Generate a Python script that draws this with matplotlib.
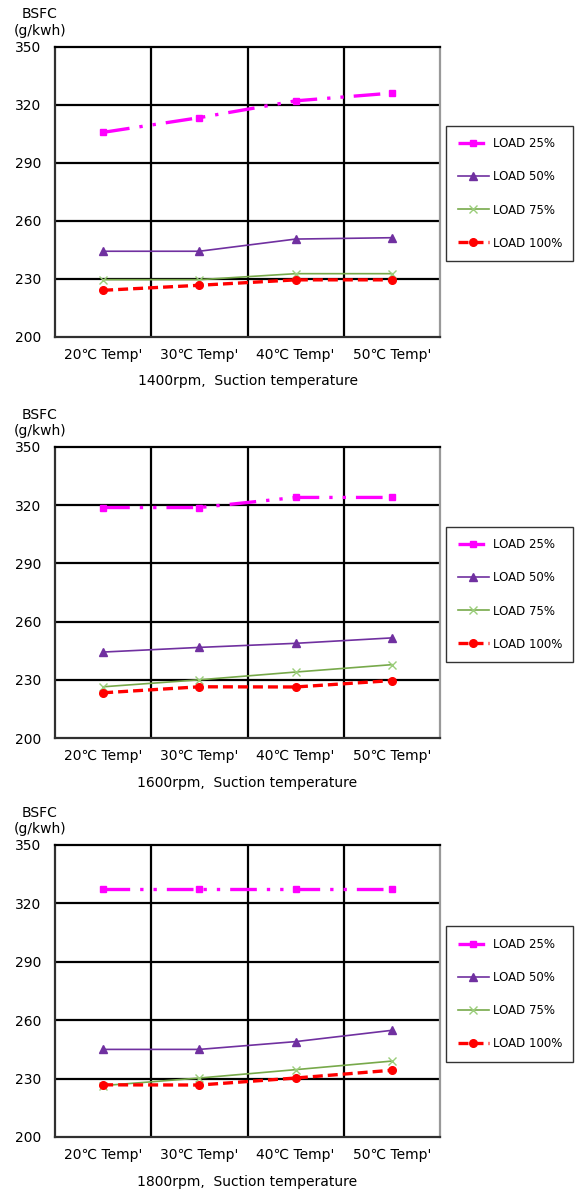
"""BSFC vs suction temperature at three engine speeds."""
import matplotlib.pyplot as plt

plt.rcParams['font.family'] = ['DejaVu Sans', 'Noto Sans CJK KR']

categories = ["20℃ Temp'", "30℃ Temp'", "40℃ Temp'", "50℃ Temp'"]
series_names = ["LOAD 25%", "LOAD 50%", "LOAD 75%", "LOAD 100%"]
speeds = ["1400rpm", "1600rpm", "1800rpm"]

# BSFC values (g/kwh), one list per load, per speed
bsfc_1400 = [
    [305.7, 313.3, 322.0, 326.0],
    [244.2, 244.2, 250.5, 251.2],
    [229.5, 229.5, 232.6, 232.6],
    [224.0, 226.6, 229.4, 229.4],
]
bsfc_1600 = [
    [318.8, 318.8, 324.0, 324.0],
    [244.3, 246.7, 248.8, 251.6],
    [226.4, 230.0, 234.0, 237.8],
    [223.3, 226.4, 226.3, 229.6],
]
bsfc_1800 = [
    [327.5, 327.5, 327.5, 327.5],
    [245.0, 245.0, 249.0, 254.8],
    [226.4, 230.3, 234.6, 239.0],
    [226.8, 226.7, 230.3, 234.3],
]
all_data = [bsfc_1400, bsfc_1600, bsfc_1800]

styles = [
    dict(color="#FF00FF", lw=2.4, dashes=(8, 3, 1, 3, 1, 3), marker="s", ms=5),
    dict(color="#7030A0", lw=1.2, ls="-", marker="^", ms=5.5),
    dict(color="#77A94A", lw=1.2, ls="-", marker="x", ms=6, mew=1.0, mec="#9ACD7A"),
    dict(color="#FF0000", lw=2.4, dashes=(3, 1.5), marker="o", ms=5.5),
]

W, H = 576, 1189
fig = plt.figure(figsize=(W / 100, H / 100), dpi=100)

# pixel layout: (axes top, axes bottom, legend top, legend bottom)
panels = [(46.7, 336.7, 125, 262), (447, 738, 527, 662), (845, 1137, 925, 1063)]
ax_left, ax_right = 55, 440

x = list(range(len(categories)))
for (top, bot, ltop, lbot), data, rpm in zip(panels, all_data, speeds):
    ax = fig.add_axes([ax_left / W, 1 - bot / H, (ax_right - ax_left) / W, (bot - top) / H])
    lines = []
    for vals, name, st in zip(data, series_names, styles):
        ln, = ax.plot(x, vals, label=name, **st)
        lines.append(ln)
    ax.set_xlim(-0.5, 3.5)
    ax.set_ylim(200, 350)
    ax.set_yticks([200, 230, 260, 290, 320, 350])
    ax.set_xticks(x)
    ax.set_xticklabels(categories, fontsize=10)
    ax.tick_params(axis="y", labelsize=10, length=0, pad=10)
    ax.tick_params(axis="x", length=0, pad=8)
    for yv in [230, 260, 290, 320]:
        ax.axhline(yv, color="black", lw=1.6, zorder=0)
    for xv in [0.5, 1.5, 2.5]:
        ax.axvline(xv, color="black", lw=1.6, zorder=0)
    ax.spines["top"].set_color("black")
    ax.spines["top"].set_linewidth(1.6)
    ax.spines["left"].set_color("#303030")
    ax.spines["left"].set_linewidth(1.6)
    ax.spines["bottom"].set_color("#303030")
    ax.spines["bottom"].set_linewidth(1.6)
    ax.spines["right"].set_color("#999999")
    ax.spines["right"].set_linewidth(1.6)
    ax.set_xlabel(f"{rpm},  Suction temperature", fontsize=10, labelpad=9)

    fig.text(40 / W, 1 - (top - 9) / H, "BSFC\n(g/kwh)", ha="center", va="bottom",
             fontsize=10, linespacing=1.2)

    leg_ax = fig.add_axes([446 / W, 1 - lbot / H, 127 / W, (lbot - ltop) / H])
    leg_ax.axis("off")
    leg_ax.legend(handles=lines, loc="center", frameon=True, fancybox=False,
                  edgecolor="black", fontsize=8.5, handlelength=2.6, handletextpad=0.4,
                  labelspacing=1.7, borderpad=1.0, borderaxespad=0, mode="expand",
                  bbox_to_anchor=(0, 0, 1, 1))

fig.savefig("out.png", dpi=100)
